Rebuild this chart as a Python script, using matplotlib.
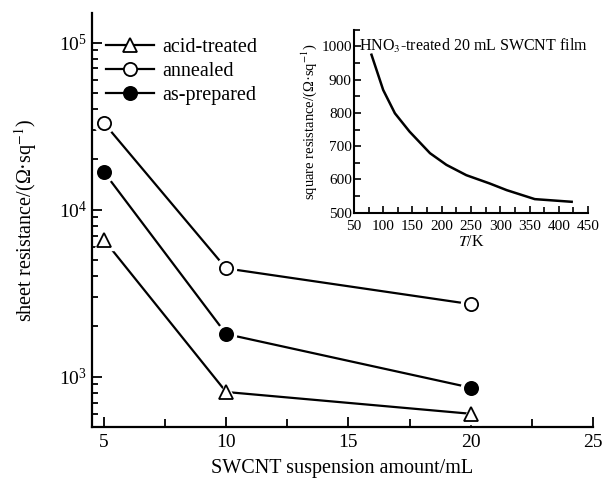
import matplotlib
matplotlib.use('Agg')
import matplotlib.pyplot as plt
from matplotlib.lines import Line2D
from matplotlib.ticker import MultipleLocator, LogLocator, NullFormatter

plt.rcParams['font.family'] = ['Liberation Serif', 'DejaVu Serif']
plt.rcParams['mathtext.fontset'] = 'stix'

# main chart data
amount = [5, 10, 20]
acid_treated = [6600, 810, 600]
annealed = [33000, 4450, 2720]
as_prepared = [16800, 1800, 860]

# inset data
temp = [80, 100, 120, 145, 180, 208, 242, 282, 311, 359, 422]
sq_res = [975, 869, 799, 744, 679, 644, 613, 588, 568, 541, 533]

fig = plt.figure(figsize=(6.05, 4.88), dpi=100)
ax = fig.add_axes([0.152, 0.125, 0.828, 0.848])

series = [
    ('acid-treated', acid_treated, '^', 'white', 9.5),
    ('annealed', annealed, 'o', 'white', 9.5),
    ('as-prepared', as_prepared, 'o', 'black', 9.5),
]
handles = []
for label, vals, mk, fc, ms in series:
    ax.plot(amount, vals, color='black', lw=1.6, zorder=2)
    # white halo so the line stops short of the marker
    ax.plot(amount, vals, ls='none', marker=mk, ms=ms + 5, mfc='white',
            mec='white', zorder=3)
    ax.plot(amount, vals, ls='none', marker=mk, ms=ms, mfc=fc,
            mec='black', mew=1.3, zorder=4)
    handles.append(Line2D([], [], color='black', lw=1.6, marker=mk, ms=ms,
                          mfc=fc, mec='black', mew=1.3))

ax.set_yscale('log')
ax.set_xlim(4.51, 25.0)
ax.set_ylim(500, 1.5e5)
ax.xaxis.set_major_locator(MultipleLocator(5))
ax.xaxis.set_minor_locator(MultipleLocator(2.5))
ax.yaxis.set_minor_locator(LogLocator(base=10, subs=range(2, 10)))
ax.yaxis.set_minor_formatter(NullFormatter())
for s in ['top', 'right']:
    ax.spines[s].set_visible(False)
for s in ['left', 'bottom']:
    ax.spines[s].set_linewidth(1.6)
ax.tick_params(which='both', direction='in', width=1.3, labelsize=14)
ax.tick_params(which='major', length=7)
ax.tick_params(which='minor', length=4)
ax.tick_params(axis='x', which='minor', length=6)
ax.tick_params(axis='x', pad=5)
ax.set_xlabel('SWCNT suspension amount/mL', fontsize=14.5, labelpad=6)
ax.set_ylabel('sheet resistance/(Ω·sq$^{-1}$)', fontsize=14.5, labelpad=14)

ax.legend(handles, [s[0] for s in series], loc='upper left', frameon=False,
          fontsize=14.5, handlelength=2.4, handletextpad=0.4, labelspacing=0.25,
          bbox_to_anchor=(0.0, 0.975), borderaxespad=0.3)

# inset
ins = fig.add_axes([0.585, 0.564, 0.387, 0.375])
ins.plot(temp, sq_res, color='black', lw=1.8)
ins.set_xlim(50, 450)
ins.set_ylim(500, 1050)
ins.xaxis.set_major_locator(MultipleLocator(50))
ins.xaxis.set_minor_locator(MultipleLocator(25))
ins.yaxis.set_major_locator(MultipleLocator(100))
ins.yaxis.set_minor_locator(MultipleLocator(50))
for s in ['top', 'right']:
    ins.spines[s].set_visible(False)
for s in ['left', 'bottom']:
    ins.spines[s].set_linewidth(1.5)
ins.tick_params(which='both', direction='in', width=1.2, labelsize=11)
ins.tick_params(axis='y', pad=1.5)
ins.tick_params(axis='x', pad=5)
ins.tick_params(which='major', length=5)
ins.tick_params(which='minor', length=4)
ins.set_xlabel('$\\mathit{T}$/K', fontsize=11.5, labelpad=1)
ins.set_ylabel('square resistance/(Ω·sq$^{-1}$)', fontsize=10.5, labelpad=2)
ins.text(0.02, 0.91, 'HNO$_3$-treated 20 mL SWCNT film', transform=ins.transAxes,
         fontsize=11.5, ha='left', va='center')

fig.savefig('out.png', dpi=100)
